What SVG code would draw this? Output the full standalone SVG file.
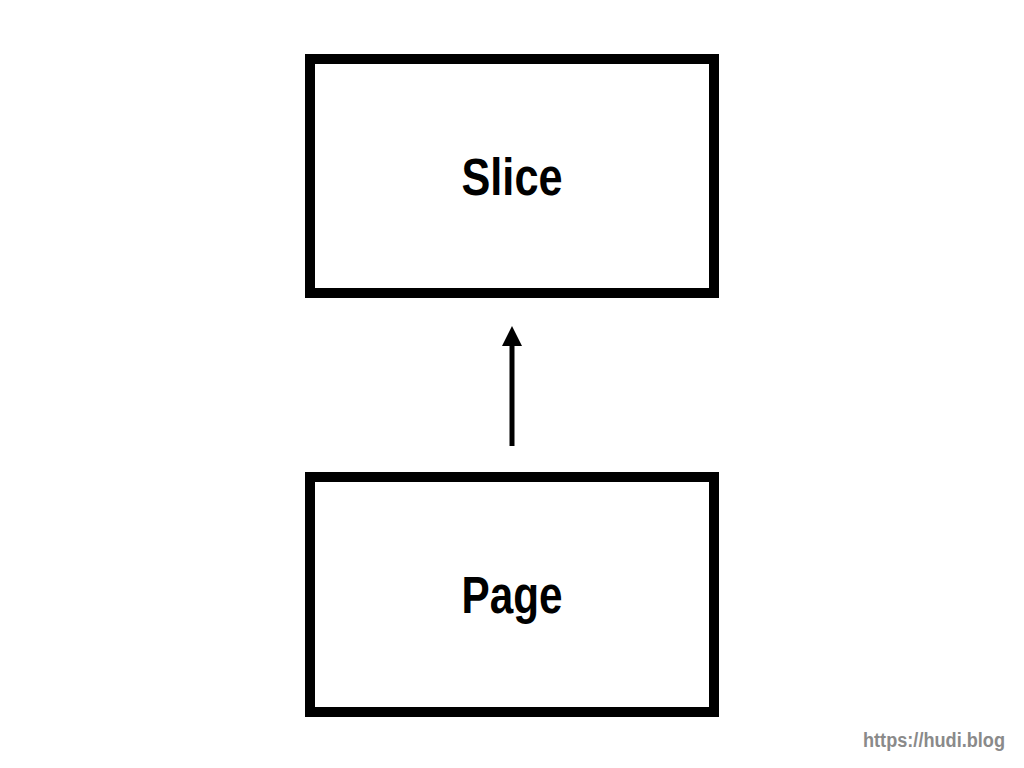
<svg xmlns="http://www.w3.org/2000/svg" width="1024" height="768" viewBox="0 0 1024 768">
<style>
.box{fill:#fff;stroke:#000;stroke-width:10}
.lbl{font-family:"Liberation Sans",Arial,sans-serif;font-weight:bold;font-size:51px;fill:#000;text-anchor:middle}
.wm{font-family:"Liberation Sans",Arial,sans-serif;font-weight:bold;font-size:20px;fill:#8a8a8a}
</style>
<defs>
<marker id="ah" markerWidth="4" markerHeight="4" refX="0" refY="2" orient="auto" markerUnits="strokeWidth">
<path d="M0,0 L4,2 L0,4 Z" fill="#000"/>
</marker>
</defs>
<rect width="1024" height="768" fill="#fff"/>
<g id="connectors">
<line x1="512" y1="446" x2="512" y2="346" stroke="#000" stroke-width="5" marker-end="url(#ah)"/>
</g>
<g id="node-slice">
<rect class="box" x="310" y="59" width="404" height="234"/>
<text class="lbl" x="512" y="195" textLength="101" lengthAdjust="spacingAndGlyphs">Slice</text>
</g>
<g id="node-page">
<rect class="box" x="310" y="477" width="404" height="235"/>
<text class="lbl" x="512" y="613" textLength="101" lengthAdjust="spacingAndGlyphs">Page</text>
</g>
<text class="wm" x="863" y="747" textLength="142" lengthAdjust="spacingAndGlyphs">https://hudi.blog</text>
</svg>
